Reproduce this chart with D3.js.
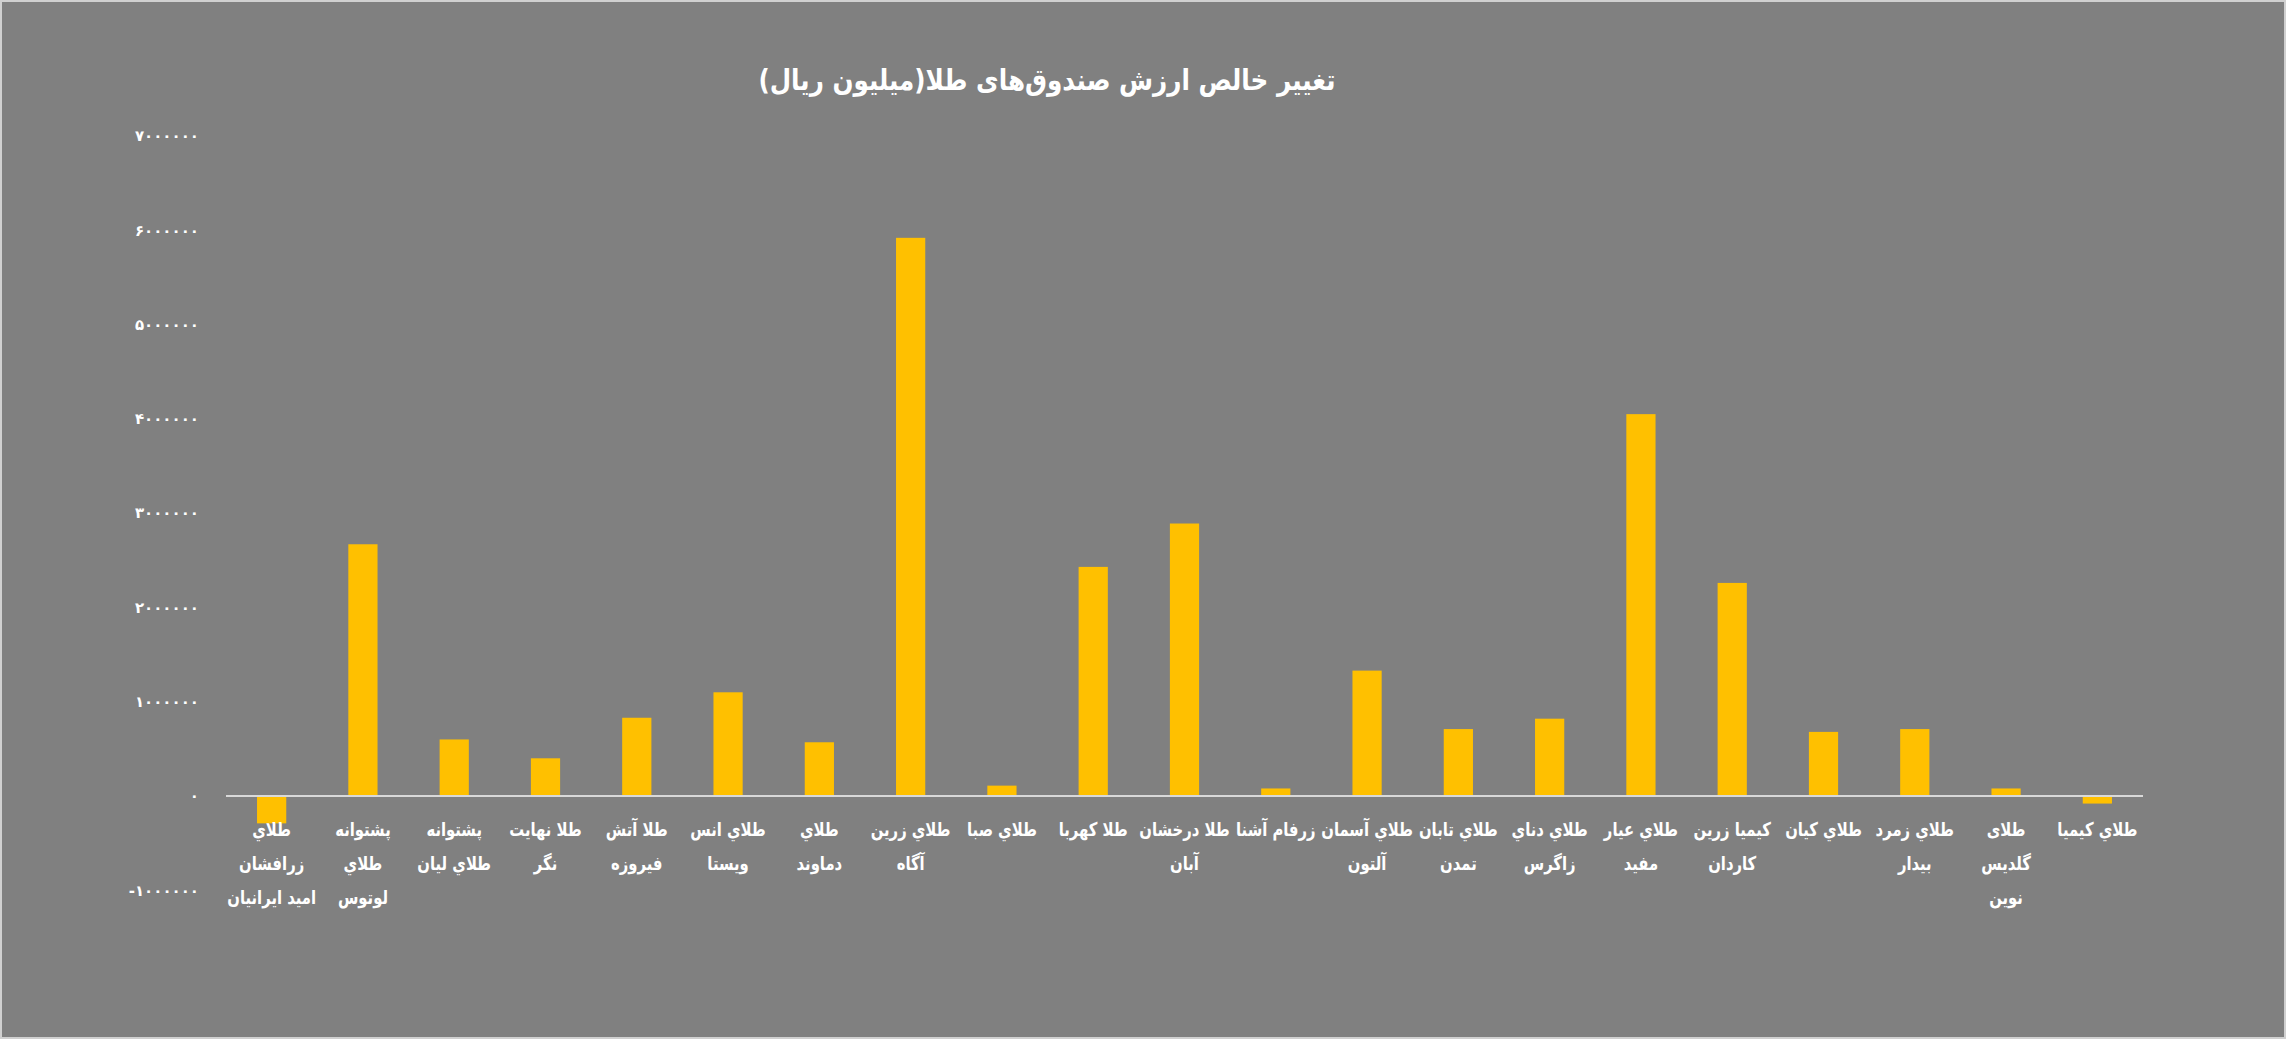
<!DOCTYPE html>
<html><head><meta charset="utf-8">
<script src="https://cdn.jsdelivr.net/npm/d3@7"></script>
<style>
body{margin:0;background:#808080;}
text{font-family:"DejaVu Sans",sans-serif;fill:#fff;font-weight:bold;}
</style></head>
<body><svg id="chart"></svg>
<script>
"use strict";
const W = 2286, H = 1039;
const margin = {top: 136, right: 143, bottom: 243, left: 226};

const funds = [
  "طلاي\nزرافشان\nامید ایرانیان", "پشتوانه\nطلاي\nلوتوس", "پشتوانه\nطلاي لیان", "طلا نهایت\nنگر",
  "طلا آتش\nفیروزه", "طلاي انس\nویستا", "طلاي\nدماوند", "طلاي زرين\nآگاه", "طلاي صبا",
  "طلا کهربا", "طلا درخشان\nآبان", "زرفام آشنا", "طلاي آسمان\nآلتون", "طلاي تابان\nتمدن",
  "طلاي دناي\nزاگرس", "طلاي عيار\nمفيد", "کیمیا زرین\nکاردان", "طلاي کیان", "طلاي زمرد\nبیدار",
  "طلای\nگلدیس\nنوین", "طلاي کیمیا"
];
const change = [
  -290000, 2670000, 600000, 400000, 830000, 1100000, 570000, 5920000, 110000,
  2430000, 2890000, 80000, 1330000, 710000, 820000, 4050000, 2260000, 680000, 710000,
  80000, -80000
];
const yTicks = [-1000000, 0, 1000000, 2000000, 3000000, 4000000, 5000000, 6000000, 7000000];
const title = "تغییر خالص ارزش صندوق‌های طلا(میلیون ریال)";

const faDigits = s => String(s).replace(/\d/g, d => "۰۱۲۳۴۵۶۷۸۹"[d]);

const svg = d3.select("#chart").attr("width", W).attr("height", H);
svg.append("rect").attr("x", 1).attr("y", 1).attr("width", W - 2).attr("height", H - 2)
  .attr("fill", "#808080").attr("stroke", "#d0d0d0").attr("stroke-width", 2);

const innerW = W - margin.left - margin.right;
const x = d3.scaleBand().domain(d3.range(funds.length)).range([margin.left, margin.left + innerW])
  .paddingInner(0.68).paddingOuter(0.34);
const y = d3.scaleLinear().domain([-1000000, 7000000]).range([796 + 94.3, 136]);

// y tick labels (no axis line)
svg.append("g").attr("transform", `translate(${margin.left - 24},0)`)
  .call(d3.axisLeft(y).tickValues(yTicks).tickSize(0).tickFormat(d => (d < 0 ? "-" : "") + faDigits(Math.abs(d))))
  .call(g => g.select(".domain").remove())
  .selectAll("text").style("font-size", "15px").attr("fill", "#fff");

svg.append("g").selectAll("rect").data(change).join("rect")
  .attr("x", (d, i) => x(i)).attr("width", x.bandwidth())
  .attr("y", d => y(Math.max(0, d))).attr("height", d => Math.abs(y(d) - y(0)))
  .attr("fill", "#FFC000");

svg.append("line").attr("x1", margin.left).attr("x2", margin.left + innerW)
  .attr("y1", y(0)).attr("y2", y(0)).attr("stroke", "#d9d9d9").attr("stroke-width", 2);

// condensed look: squeeze labels horizontally around their centre
const sx = 0.78;
const labels = svg.append("g").selectAll("text").data(funds).join("text")
  .attr("transform", (d, i) => `translate(${x(i) + x.bandwidth() / 2},${y(0) + 40}) scale(${sx},1)`)
  .attr("text-anchor", "middle").attr("direction", "rtl").style("font-size", "19px");
labels.each(function (d) {
  const t = d3.select(this);
  d.split("\n").forEach((line, k) => {
    t.append("tspan").attr("x", 0).attr("dy", k === 0 ? 0 : 34).text(line);
  });
});

svg.append("text").attr("transform", "translate(1047,90) scale(0.85,1)").attr("text-anchor", "middle")
  .attr("direction", "rtl").style("font-size", "29px").text(title);
</script></body></html>
